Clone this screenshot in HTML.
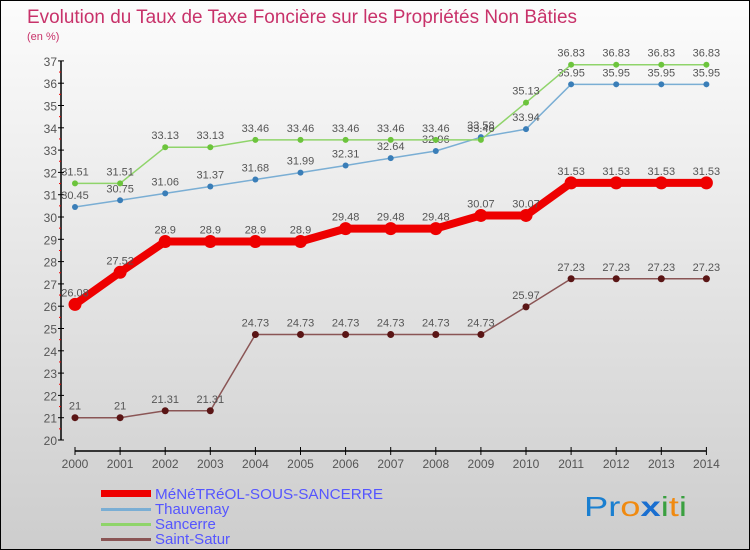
<!DOCTYPE html>
<html><head><meta charset="utf-8"><style>
html,body{margin:0;padding:0}
body{width:750px;height:550px;overflow:hidden;font-family:"Liberation Sans",sans-serif}
#wrap{position:relative;width:748px;height:548px;border:1px solid #000;background:linear-gradient(#fcfcfc,#cdcdcd)}
</style></head><body>
<div id="wrap">
<svg id="chart" width="748" height="548" style="position:absolute;left:0;top:0">
<text x="26" y="22" font-size="19" fill="#c8326a" textLength="550" lengthAdjust="spacingAndGlyphs">Evolution du Taux de Taxe Foncière sur les Propriétés Non Bâties</text>
<text x="26" y="39" font-size="11" fill="#c8326a">(en %)</text>
<g id="axes"></g><g id="series"></g>
<g>
<rect x="100" y="489" width="50" height="7" fill="#ee0000"/>
<text x="154" y="498" font-size="15" fill="#5555ff" textLength="228" lengthAdjust="spacingAndGlyphs">MéNéTRéOL-SOUS-SANCERRE</text>
<rect x="100" y="507" width="50" height="3" fill="#7aaed4"/>
<text x="154" y="513" font-size="15" fill="#5555ff">Thauvenay</text>
<rect x="100" y="522" width="50" height="3" fill="#8fd46a"/>
<text x="154" y="528" font-size="15" fill="#5555ff">Sancerre</text>
<rect x="100" y="537" width="50" height="3" fill="#8a5555"/>
<text x="154" y="543" font-size="15" fill="#5555ff">Saint-Satur</text>
</g>
<text x="583" y="515" font-size="28" textLength="103" lengthAdjust="spacingAndGlyphs"><tspan fill="#1a7fd0">Pr</tspan><tspan fill="#f08a10">o</tspan><tspan fill="#1a6fd0" font-weight="bold">x</tspan><tspan fill="#3aa040">i</tspan><tspan fill="#f08a10">t</tspan><tspan fill="#3aa040">i</tspan></text>
</svg>
</div>
<script>
const years=[2000,2001,2002,2003,2004,2005,2006,2007,2008,2009,2010,2011,2012,2013,2014];
const menetreol=[26.08,27.52,28.9,28.9,28.9,28.9,29.48,29.48,29.48,30.07,30.07,31.53,31.53,31.53,31.53];
const thauvenay=[30.45,30.75,31.06,31.37,31.68,31.99,32.31,32.64,32.96,33.58,33.94,35.95,35.95,35.95,35.95];
const sancerre=[31.51,31.51,33.13,33.13,33.46,33.46,33.46,33.46,33.46,33.46,35.13,36.83,36.83,36.83,36.83];
const saintSatur=[21,21,21.31,21.31,24.73,24.73,24.73,24.73,24.73,24.73,25.97,27.23,27.23,27.23,27.23];
const yTicks=[20,21,22,23,24,25,26,27,28,29,30,31,32,33,34,35,36,37];
const NS="http://www.w3.org/2000/svg";
const X0=74,XS=45.1,Y0=439,YMIN=20,YS=22.3;
const xs=i=>X0+i*XS, ys=v=>Y0-(v-YMIN)*YS;
function mk(t,a,p){const e=document.createElementNS(NS,t);for(const k in a)e.setAttribute(k,a[k]);p.appendChild(e);return e;}
const ax=document.getElementById('axes');
const yl=mk('line',{x1:60,y1:ys(37),x2:60,y2:Y0,stroke:'#000','stroke-width':1.5},ax);


yTicks.forEach(v=>{
 mk('line',{x1:57,x2:63,y1:ys(v),y2:ys(v),stroke:'#000'},ax);
 if(v<37)mk('line',{x1:58,x2:60,y1:ys(v+0.5),y2:ys(v+0.5),stroke:'#e00'},ax);
 const t=mk('text',{x:56,y:ys(v)+5,'text-anchor':'end','font-size':12,fill:'#555'},ax);t.textContent=v;
 
 
});
const xl=mk('line',{x1:X0,y1:450,x2:xs(14),y2:450,stroke:'#000','stroke-width':1.5},ax);


years.forEach((y,i)=>{
 mk('line',{x1:xs(i),x2:xs(i),y1:446,y2:454,stroke:'#000'},ax);
 const t=mk('text',{x:xs(i),y:467,'text-anchor':'middle','font-size':12,fill:'#555'},ax);t.textContent=y;
 
 
});
const sg=document.getElementById('series');
function series(vals,color,w,r,dot,name){
 const g=mk('g',{},sg);
 
 
 mk('polyline',{points:vals.map((v,i)=>xs(i)+','+ys(v)).join(' '),fill:'none',stroke:color,'stroke-width':w,'stroke-linejoin':'round'},g);
 vals.forEach((v,i)=>{
  const c=mk('circle',{cx:xs(i),cy:ys(v),r:r,fill:dot},g);
  
  
  const t=mk('text',{x:xs(i),y:ys(v)-8,'text-anchor':'middle','font-size':11,fill:'#555'},g);t.textContent=v;
  
  
 });
}
series(saintSatur,'#8a5555',1.5,3.5,'#5a1515','series-saint-satur');
series(thauvenay,'#7aaed4',1.5,3,'#3a7eb8','series-thauvenay');
series(sancerre,'#8fd46a',1.5,3,'#6cc43c','series-sancerre');
series(menetreol,'#ee0000',8,6.5,'#ee0000','series-menetreol');
</script>
</body></html>
